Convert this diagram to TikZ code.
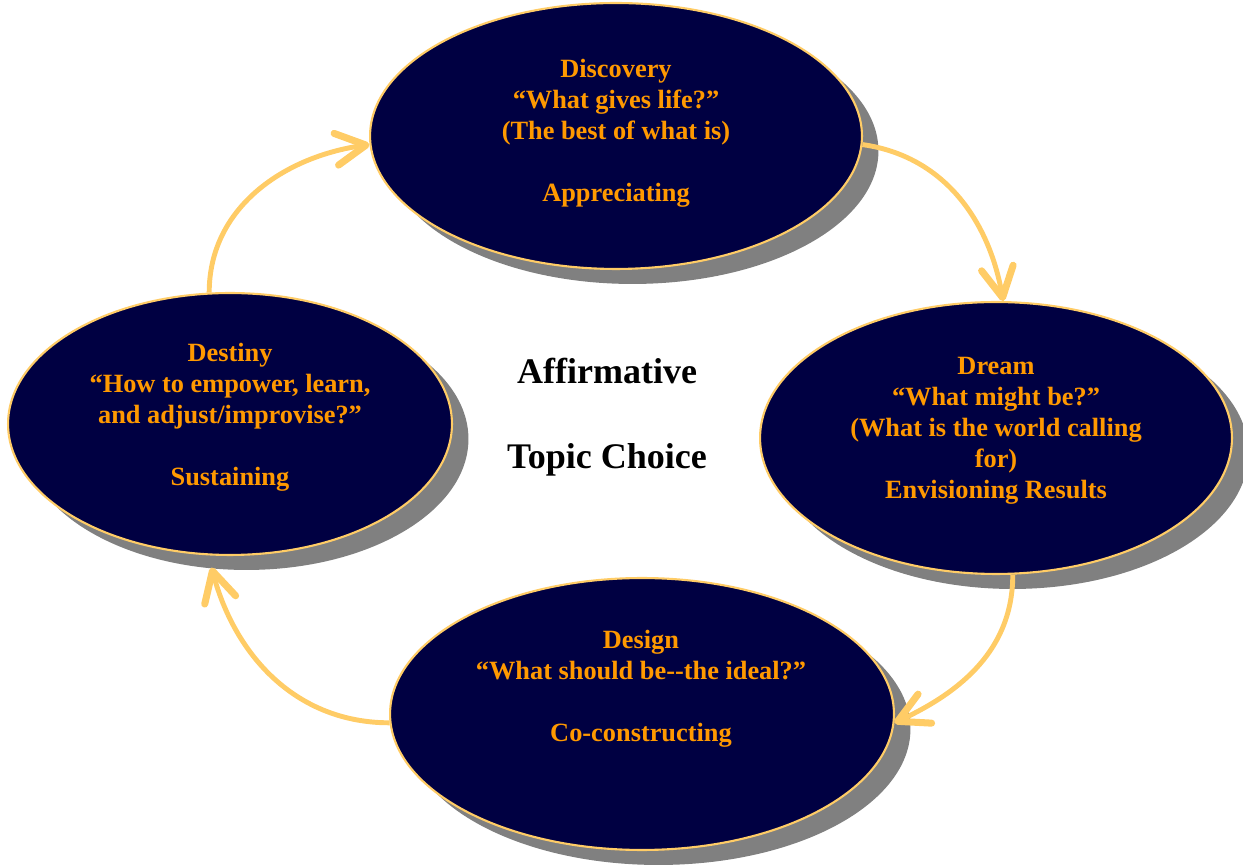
\documentclass[tikz,border=0pt]{standalone}
\usepackage{fontspec}
\setmainfont{Liberation Serif}
\usepackage{tikz}
\usetikzlibrary{shapes.geometric, arrows.meta, shadows}
\definecolor{navy}{RGB}{0, 0, 66}
\definecolor{cyclegold}{RGB}{255, 204, 102}
\definecolor{phaseorange}{RGB}{255, 153, 0}
\definecolor{shadowgray}{RGB}{128, 128, 128}

\begin{document}
\begin{tikzpicture}[
    x=0.02cm, y=0.02cm,
    phase/.style={ellipse, draw=cyclegold, line width=1.2pt, fill=navy, inner sep=0pt,
        general shadow={fill=shadowgray, shadow xshift=0.33cm, shadow yshift=-0.30cm}},
    phase_text/.style={font=\fontsize{15}{17.6}\selectfont\bfseries, text=phaseorange, align=center},
    center_text/.style={font=\fontsize{20.5}{24}\selectfont\bfseries, text=black},
    cycle_arrow/.style={-{Straight Barb[length=0.6cm, width=0.64cm, line width=4pt, round]}, line width=2.8pt, cyclegold}
]
    \useasboundingbox (0,0) rectangle (1243,865);

    % Phase ellipses
    \node[phase, minimum width=9.84cm, minimum height=5.32cm] (discovery) at (616,729) {};
    \node[phase, minimum width=9.44cm, minimum height=5.44cm] (dream) at (996,427) {};
    \node[phase, minimum width=10.08cm, minimum height=5.44cm] (design) at (642,151) {};
    \node[phase, minimum width=8.88cm, minimum height=5.24cm] (destiny) at (230,441) {};

    % Phase texts
    \node[phase_text] (discovery_txt) at (616,732) {Discovery\\“What gives life?”\\(The best of what is)\\[17.6pt]Appreciating};
    \node[phase_text] (dream_txt) at (996,434) {Dream\\“What might be?”\\(What is the world calling\\for)\\Envisioning Results};
    \node[phase_text] (design_txt) at (641,176) {Design\\“What should be-{}-the ideal?”\\[17.6pt]Co-constructing};
    \node[phase_text] (destiny_txt) at (230,448) {Destiny\\“How to empower, learn,\\and adjust/improvise?”\\[17.6pt]Sustaining};

    % Centre
    \node[center_text] (affirm) at (607,494) {Affirmative};
    \node[center_text] (topic) at (607,405) {Topic Choice};

    % Cycle arrows
    \draw[cycle_arrow] (destiny.99) to[out=90, in=188] (discovery.182);
    \draw[cycle_arrow] (discovery.-2) to[out=-8, in=100] (dream.87);
    \draw[cycle_arrow] (dream.-83) to[out=-90, in=25] (design.-2);
    \draw[cycle_arrow] (design.182) to[out=180, in=-75] ([yshift=-0.24cm]destiny.262);
\end{tikzpicture}
\end{document}
